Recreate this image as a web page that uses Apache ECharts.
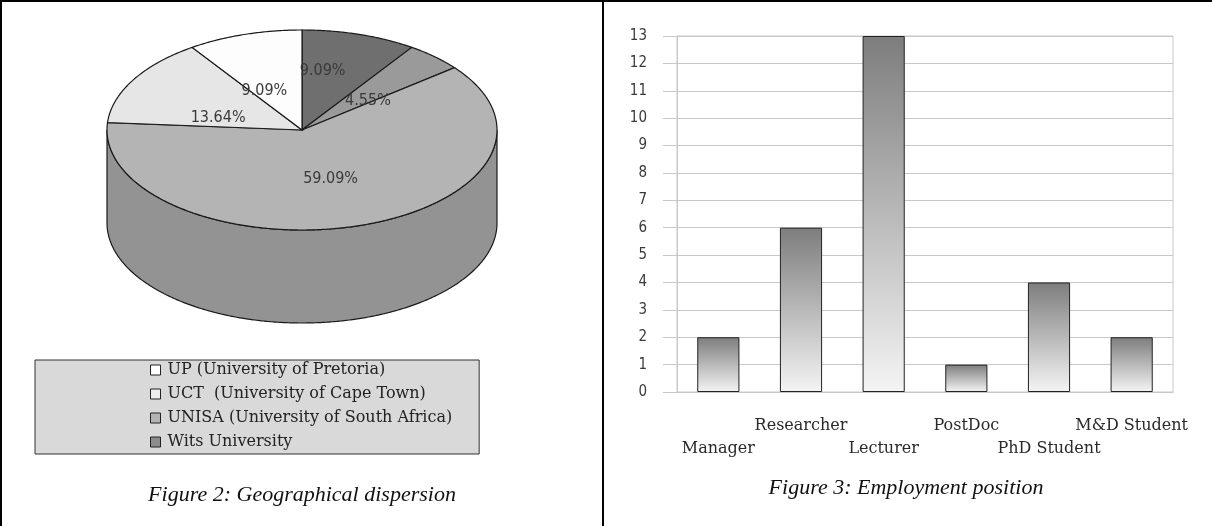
<!DOCTYPE html>
<html>
<head>
<meta charset="utf-8">
<script src="https://cdn.jsdelivr.net/npm/echarts@6/dist/echarts.min.js"></script>
<style>
  html, body { margin: 0; padding: 0; background: #fff; }
  #chart { width: 1212px; height: 526px; }
</style>
</head>
<body>
<div id="chart"></div>
<script>
// Figure 2 – share of respondents per institution (percent), clockwise from 12 o'clock
const sliceNames = ['Wits University', 'Other', 'UNISA (University of South Africa)', 'UCT  (University of Cape Town)', 'UP (University of Pretoria)'];
const sliceValues = [9.09, 4.55, 59.09, 13.64, 9.09];
const sliceColors = ['#6f6f6f', '#9a9a9a', '#b4b4b4', '#e6e6e6', '#fdfdfd'];
const legendNames = ['UP (University of Pretoria)', 'UCT  (University of Cape Town)', 'UNISA (University of South Africa)', 'Wits University'];
const legendColors = ['#ffffff', '#eeeeee', '#b4b4b4', '#8c8c8c'];

// Figure 3 – employment position counts
const positions = ['Manager', 'Researcher', 'Lecturer', 'PostDoc', 'PhD Student', 'M&D Student'];
const counts = [2, 6, 13, 1, 4, 2];

// Layout of the tilted pie (ellipse centre, radii, rim depth) and label nudges
const PIE = { cx: 302, cy: 130, rx: 195, ry: 100, depth: 93, labelR: 0.55 };
const labelNudge = [[-11, -7], [-7, 11], [-3, -4], [9, 15], [-6, 13]];

const serif = "'DejaVu Serif', serif";
const sans = "'DejaVu Sans Condensed', 'DejaVu Sans', sans-serif";

const total = sliceValues.reduce((a, b) => a + b, 0);
const startFrac = [];
sliceValues.reduce((acc, v, i) => { startFrac[i] = acc / total; return acc + v; }, 0);

function rim(theta, dy) {
  return [PIE.cx + PIE.rx * Math.sin(theta), PIE.cy - PIE.ry * Math.cos(theta) + (dy || 0)];
}
function darken(hex, k) {
  const n = parseInt(hex.slice(1), 16);
  const c = [(n >> 16) & 255, (n >> 8) & 255, n & 255].map(v => Math.round(v * k));
  return 'rgb(' + c.join(',') + ')';
}

function sliceRenderer(idx) {
  return function (params, api) {
    const value = api.value(0);
    const a0 = startFrac[idx] * Math.PI * 2;
    const a1 = a0 + value / total * Math.PI * 2;
    const step = Math.PI / 360;
    const children = [];

    // visible front rim (between 3 o'clock and 9 o'clock)
    const s = Math.max(a0, Math.PI / 2), e = Math.min(a1, Math.PI * 1.5);
    if (s < e) {
      const pts = [];
      for (let t = s; t < e; t += step) pts.push(rim(t));
      pts.push(rim(e));
      for (let t = e; t > s; t -= step) pts.push(rim(t, PIE.depth));
      pts.push(rim(s, PIE.depth));
      children.push({
        type: 'polygon', shape: { points: pts }, z2: 1,
        style: { fill: darken(sliceColors[idx], 0.815), stroke: '#1a1a1a', lineWidth: 1.2 }
      });
    }

    // top face
    const top = [[PIE.cx, PIE.cy]];
    for (let t = a0; t < a1; t += step) top.push(rim(t));
    top.push(rim(a1));
    children.push({
      type: 'polygon', shape: { points: top }, z2: 2,
      style: { fill: sliceColors[idx], stroke: '#1a1a1a', lineWidth: 1.2 }
    });

    // percentage label, kept above every face
    const mid = (a0 + a1) / 2;
    children.push({
      type: 'text', z2: 50,
      x: PIE.cx + PIE.rx * PIE.labelR * Math.sin(mid) + labelNudge[idx][0],
      y: PIE.cy - PIE.ry * PIE.labelR * Math.cos(mid) + labelNudge[idx][1],
      style: {
        text: value.toFixed(2) + '%', fill: '#3a3a3a',
        font: '16px ' + sans, align: 'center', verticalAlign: 'middle'
      }
    });
    return { type: 'group', children: children };
  };
}

const pieSeries = sliceNames.map((name, i) => ({
  type: 'custom',
  name: name,
  coordinateSystem: 'none',
  silent: true,
  itemStyle: { color: sliceColors[i] },
  data: [[sliceValues[i]]],
  renderItem: sliceRenderer(i)
}));

const chart = echarts.init(document.getElementById('chart'), null, { renderer: 'canvas' });

chart.setOption({
  animation: false,
  backgroundColor: '#ffffff',
  legend: {
    orient: 'vertical',
    left: 35, top: 360,
    padding: [1, 27, 3, 115],
    backgroundColor: '#d9d9d9',
    borderColor: '#333333', borderWidth: 1,
    icon: 'rect', itemWidth: 10, itemHeight: 10, itemGap: 6,
    selectedMode: false,
    itemStyle: { borderColor: '#222', borderWidth: 1 },
    textStyle: { fontFamily: serif, fontSize: 16, lineHeight: 18, color: '#222', padding: [0, 0, 0, 2] },
    data: legendNames.map((n, i) => ({ name: n, itemStyle: { color: legendColors[i] } }))
  },
  grid: {
    left: 677, right: 39, top: 36, bottom: 134,
    show: true, borderColor: '#c8c8c8', borderWidth: 1
  },
  xAxis: {
    type: 'category',
    data: positions,
    axisLine: { lineStyle: { color: '#c8c8c8' } },
    axisTick: { length: 13, lineStyle: { color: '#c0c0c0' } },
    axisLabel: {
      interval: 0, margin: 22, lineHeight: 23,
      fontFamily: serif, fontSize: 16, color: '#2a2a2a',
      formatter: (v, i) => (i % 2 === 0 ? '\n' + v : v)
    }
  },
  yAxis: {
    type: 'value', min: 0, max: 13, interval: 1,
    axisLine: { show: true, lineStyle: { color: '#c8c8c8' } },
    axisTick: { show: true, length: 14, lineStyle: { color: '#c8c8c8' } },
    splitLine: { lineStyle: { color: '#c8c8c8' } },
    axisLabel: { margin: 30, fontFamily: sans, fontSize: 15, color: '#3a3a3a' }
  },
  series: pieSeries.concat([{
    type: 'bar',
    name: 'Employment position',
    data: counts,
    barWidth: '51%',
    silent: true,
    itemStyle: {
      color: new echarts.graphic.LinearGradient(0, 0, 0, 1, [
        { offset: 0, color: '#7d7d7d' },
        { offset: 1, color: '#f4f4f4' }
      ]),
      borderColor: '#222', borderWidth: 1
    }
  }]),
  graphic: [
    { type: 'rect', shape: { x: 0, y: 0, width: 1212, height: 2 }, style: { fill: '#000' } },
    { type: 'rect', shape: { x: 0, y: 0, width: 2, height: 526 }, style: { fill: '#000' } },
    { type: 'rect', shape: { x: 602, y: 0, width: 2, height: 526 }, style: { fill: '#000' } },
    {
      type: 'text', x: 302, y: 495,
      style: { text: 'Figure 2: Geographical dispersion', font: 'italic 22px "Liberation Serif", serif',
               fill: '#111', align: 'center', verticalAlign: 'middle' }
    },
    {
      type: 'text', x: 906, y: 488,
      style: { text: 'Figure 3: Employment position', font: 'italic 22px "Liberation Serif", serif',
               fill: '#111', align: 'center', verticalAlign: 'middle' }
    }
  ]
});
</script>
</body>
</html>
